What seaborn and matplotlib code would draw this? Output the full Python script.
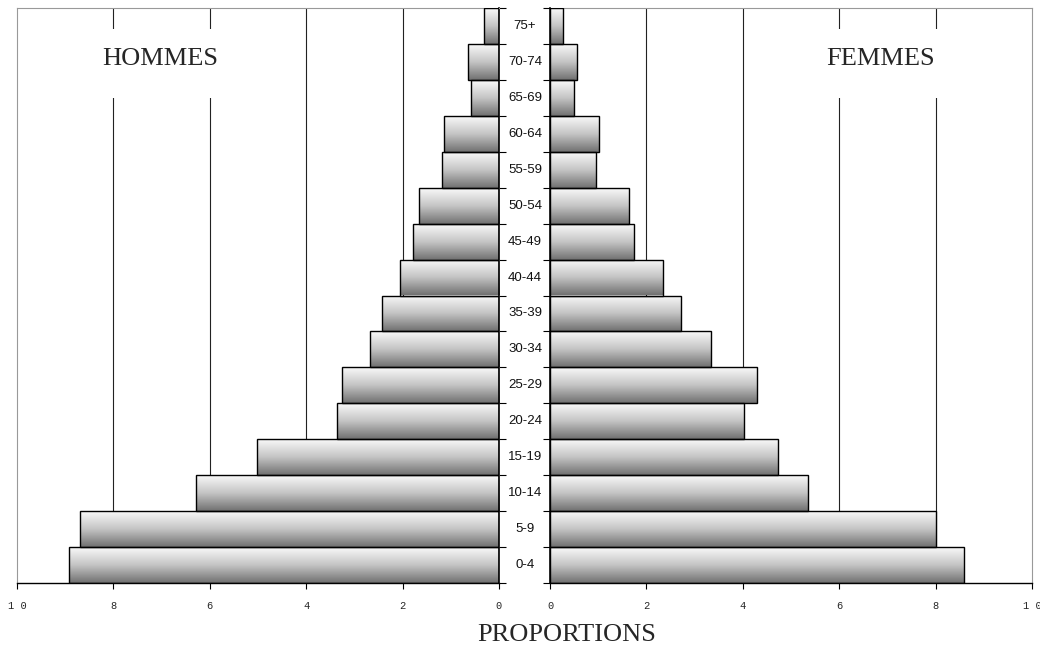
import numpy as np
import pandas as pd
import matplotlib
matplotlib.use("Agg")
import matplotlib.pyplot as plt
import matplotlib.transforms as mtransforms
from matplotlib.patches import Rectangle
import seaborn as sns

sns.set_style("white")
plt.rcParams['font.family'] = ['Liberation Sans', 'DejaVu Sans']

# age groups, top to bottom
ages = ["75+", "70-74", "65-69", "60-64", "55-59", "50-54", "45-49", "40-44",
        "35-39", "30-34", "25-29", "20-24", "15-19", "10-14", "5-9", "0-4"]
hommes = [0.31, 0.64, 0.58, 1.14, 1.18, 1.66, 1.78, 2.06,
          2.42, 2.68, 3.26, 3.36, 5.02, 6.29, 8.69, 8.92]
femmes = [0.26, 0.55, 0.50, 1.02, 0.95, 1.64, 1.74, 2.34,
          2.72, 3.34, 4.29, 4.02, 4.73, 5.35, 8.00, 8.59]
xticks = [0, 2, 4, 6, 8, 10]

df = pd.DataFrame({"age": ages, "hommes": hommes, "femmes": femmes})

fig = plt.figure(figsize=(10.4, 6.48), dpi=100)
W, H = 1040, 648
bottom, top = 583, 8
ax_l = fig.add_axes([17 / W, (H - bottom) / H, 482 / W, (bottom - top) / H])
ax_r = fig.add_axes([550 / W, (H - bottom) / H, 482 / W, (bottom - top) / H])

grad = np.linspace(0, 1, 256).reshape(-1, 1)
gray_cmap = matplotlib.colors.LinearSegmentedColormap.from_list(
    "bargray", ["#fafafa", "#c4c4c4", "#707070"])


def gradient_bars(ax):
    # paint every bar with a vertical light-to-dark gradient
    for p in ax.patches:
        x0, y0 = p.get_x(), p.get_y()
        w, h = p.get_width(), p.get_height()
        im = ax.imshow(grad, cmap=gray_cmap, aspect="auto", zorder=2,
                       extent=[x0, x0 + w, y0 + h, y0], interpolation="bicubic")
        im.set_clip_path(p)
        p.set_facecolor("none")
        p.set_zorder(3)


for ax, col in [(ax_l, "hommes"), (ax_r, "femmes")]:
    sns.barplot(data=df, x=col, y="age", orient="h", width=1.0,
                color="#bbbbbb", edgecolor="black", linewidth=1.0, ax=ax)
    gradient_bars(ax)
    ax.set_xlim(0, 10)
    ax.set_ylim(len(ages) - 0.5, -0.5)
    ax.set_xlabel("")
    ax.set_ylabel("")
    ax.set_xticks(xticks)
    ax.set_xticklabels([str(t) if t < 10 else "1 0" for t in xticks],
                       family=["Liberation Mono", "DejaVu Sans Mono"], fontsize=7.5)
    ax.tick_params(axis="x", direction="out", length=4, width=0.8,
                   color="black", pad=9, bottom=True)
    for v in xticks[1:-1]:
        ax.axvline(v, color="#222222", lw=0.8, zorder=1)
    ax.set_yticks(np.arange(len(ages) + 1) - 0.5)
    ax.set_yticklabels([])
    for s in ax.spines.values():
        s.set_color("#999999")
        s.set_linewidth(0.8)
    ax.spines["bottom"].set_color("black")
    ax.spines["bottom"].set_linewidth(1.0)

ax_l.invert_xaxis()
ax_l.yaxis.tick_right()
ax_l.spines["right"].set_color("black")
ax_l.spines["right"].set_linewidth(1.2)
ax_l.tick_params(axis="y", direction="out", length=5, width=0.8, color="black")

ax_r.yaxis.tick_left()
ax_r.spines["left"].set_color("black")
ax_r.spines["left"].set_linewidth(1.2)
ax_r.tick_params(axis="y", direction="out", length=5, width=0.8, color="black")
ax_r.get_xticklabels()[-1].set_horizontalalignment("center")

# age labels centred between the two halves
trans = mtransforms.blended_transform_factory(fig.transFigure, ax_l.transData)
for i, a in enumerate(ages):
    fig.text(525 / W, i, a, transform=trans, ha="center", va="center",
             fontsize=9.5, color="#111111")

# white label boxes that break the gridlines
serif = ["Liberation Serif", "DejaVu Serif"]
for ax, cx, label in [(ax_l, 0.297, "HOMMES"), (ax_r, 0.685, "FEMMES")]:
    ax.add_patch(Rectangle((cx - 0.14, 0.843), 0.28, 0.12, transform=ax.transAxes,
                           fc="white", ec="none", zorder=1.5))
    ax.text(cx, 0.912, label, transform=ax.transAxes, ha="center",
            va="center", fontsize=19, family=serif, zorder=5)

fig.text(567 / W, (H - 635) / H, "PROPORTIONS", ha="center", va="center",
         fontsize=19, family=serif)

fig.savefig("out.png", dpi=100)
